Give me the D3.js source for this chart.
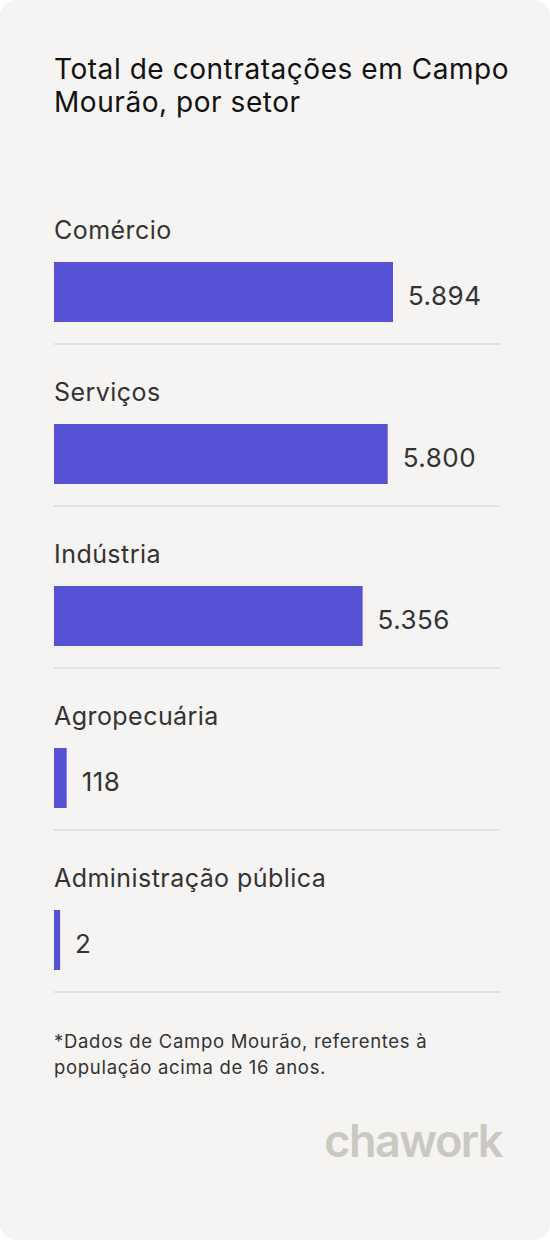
<!DOCTYPE html>
<html><head><meta charset="utf-8">
<script src="https://cdn.jsdelivr.net/npm/d3@7"></script>
<style>body{margin:0;background:#fff}svg{display:block}</style>
</head><body><svg></svg>
<script>
// data
const categories = ["Comércio", "Serviços", "Indústria", "Agropecuária", "Administração pública"];
const values = [5894, 5800, 5356, 118, 2];
const valueLabels = ["5.894", "5.800", "5.356", "118", "2"];
const footnote = ["*Dados de Campo Mourão, referentes à", "população acima de 16 anos."];

const width = 550, height = 1240;
const font = "Inter, 'Noto Sans', sans-serif";
const svg = d3.select("svg").attr("width", width).attr("height", height);

svg.append("rect").attr("width", width).attr("height", height)
    .attr("rx", 16).attr("fill", "#f5f4f2");

svg.append("text").attr("x", 54).attr("font-family", font).attr("font-size", 28)
    .attr("fill", "#111").attr("letter-spacing", 0.55)
  .selectAll("tspan").data(["Total de contratações em Campo", "Mourão, por setor"])
  .join("tspan").attr("x", 54).attr("y", 79 + 0).attr("y", (d, i) => 79 + i * 33).text(d => d);

const x = d3.scaleLinear().domain([0, d3.max(values)]).range([6, 339]);
const y = d3.scaleBand().domain(categories).range([200, 1010]);

const row = svg.append("g").selectAll("g").data(categories).join("g")
    .attr("transform", d => `translate(0,${y(d)})`);

row.append("text").attr("x", 54).attr("y", 39).attr("font-family", font)
    .attr("font-size", 25).attr("letter-spacing", 0.45).attr("fill", "#333").text(d => d);

row.append("rect").attr("x", 54).attr("y", 62).attr("height", 60)
    .attr("width", (d, i) => x(values[i])).attr("fill", "#5751d6");

row.append("text").attr("x", (d, i) => 54 + x(values[i]) + 15).attr("y", 105)
    .attr("font-family", font).attr("font-size", 26).attr("letter-spacing", 0.5)
    .attr("fill", "#333").text((d, i) => valueLabels[i]);

row.append("line").attr("x1", 54).attr("x2", 500).attr("y1", 144).attr("y2", 144)
    .attr("stroke", "#deddda").attr("stroke-width", 1.5);

svg.append("text").attr("font-family", font).attr("font-size", 18.5)
    .attr("letter-spacing", 0.7).attr("fill", "#333")
  .selectAll("tspan").data(footnote).join("tspan")
    .attr("x", 54).attr("y", (d, i) => 1048 + i * 26).text(d => d);

svg.append("text").attr("x", 502).attr("y", 1157).attr("text-anchor", "end")
    .attr("font-family", font).attr("font-size", 45).attr("font-weight", 600)
    .attr("letter-spacing", -1.5).attr("fill", "#c9c8c2").text("chawork");
</script></body></html>
